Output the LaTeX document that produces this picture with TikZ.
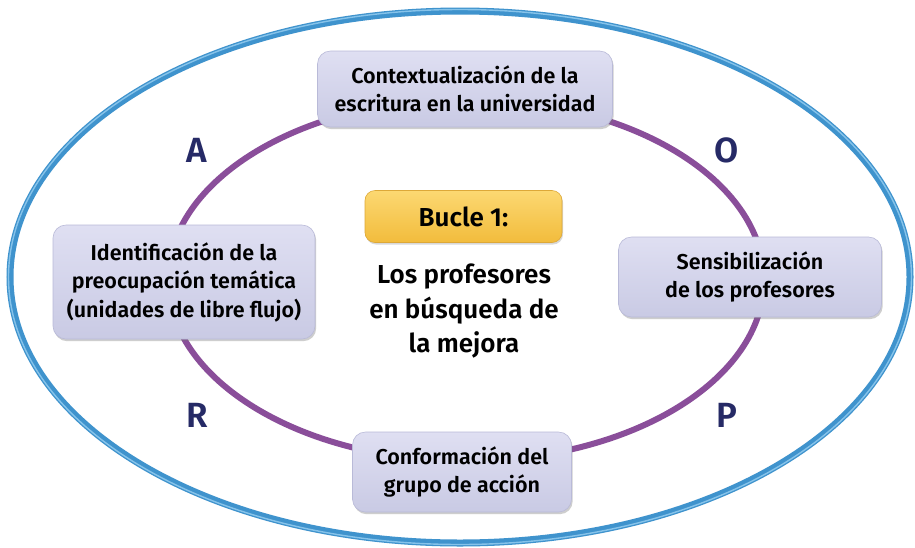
\documentclass[tikz,border=0pt]{standalone}
\usepackage{fontspec}
\setmainfont{Fira Sans}[BoldFont={Fira Sans SemiBold}]
\usetikzlibrary{shadows}
\definecolor{boxtop}{HTML}{DFDFF2}
\definecolor{boxbot}{HTML}{C9CAE4}
\definecolor{boxedge}{HTML}{B9BAD8}
\definecolor{ringblue}{HTML}{3F93CD}
\definecolor{ringlight}{HTML}{86C3EA}
\definecolor{looppurple}{HTML}{8A4E9A}
\definecolor{navy}{HTML}{262A66}
\definecolor{ytop}{HTML}{FCD872}
\definecolor{ybot}{HTML}{F2BC3C}
\definecolor{yedge}{HTML}{DDA838}
\begin{document}
\begin{tikzpicture}[x=1pt,y=-1pt,
  stagebox/.style={rounded corners=13pt, top color=boxtop, bottom color=boxbot,
    draw=boxedge, line width=0.6pt, align=center, inner sep=0pt,
    drop shadow={shadow xshift=1.2pt, shadow yshift=-2.2pt, opacity=0.35, fill=black!55},
    font=\bfseries\fontsize{21.5}{28.5}\selectfont},
  bucle/.style={rounded corners=10pt, top color=ytop, bottom color=ybot,
    draw=yedge, line width=0.6pt, inner sep=0pt,
    drop shadow={shadow xshift=1pt, shadow yshift=-2pt, opacity=0.3, fill=black!50},
    font=\bfseries\fontsize{26}{28}\selectfont},
  phase/.style={text=navy, font=\bfseries\fontsize{35}{36}\selectfont, inner sep=0pt},
  central/.style={align=center, font=\bfseries\fontsize{26}{34.5}\selectfont, inner sep=0pt}
]
\useasboundingbox[fill=white] (0,0) rectangle (915,547);
% outer ring
\draw[ringblue, line width=7pt] (460,277) ellipse [x radius=450, y radius=266];
\draw[ringlight, line width=1.4pt] (460,277) ellipse [x radius=451.5, y radius=267.5];
% inner loop
\draw[looppurple, line width=6pt] (466,280) ellipse [x radius=298, y radius=181];
% stages
\node[stagebox, minimum width=295pt, minimum height=76pt] (ctx) at (465,89)
  {Contextualización de la\\escritura en la universidad};
\node[stagebox, minimum width=262pt, minimum height=114pt] (ident) at (184,282)
  {Identificación de la\\preocupación temática\\(unidades de libre flujo)};
\node[stagebox, minimum width=263pt, minimum height=80pt] (sens) at (750,277)
  {Sensibilización\\de los profesores};
\node[stagebox, minimum width=219pt, minimum height=80pt] (conf) at (462,472)
  {Conformación del\\grupo de acción};
% centre
\node[bucle, minimum width=197pt, minimum height=52pt] (buc) at (463.5,216.5) {Bucle 1:};
\node[central] (title) at (464,311) {Los profesores\\en búsqueda de\\la mejora};
% letters
\node[phase] (A) at (197,150) {A};
\node[phase] (O) at (727,150) {O};
\node[phase] (R) at (197,415) {R};
\node[phase] (P) at (727,415) {P};
\end{tikzpicture}
\end{document}
